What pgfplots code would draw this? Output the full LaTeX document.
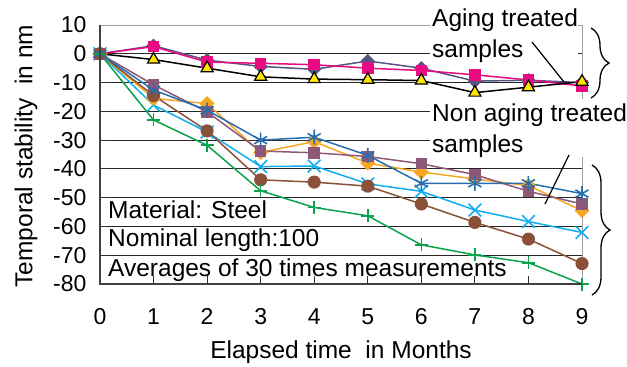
\documentclass[border=0pt]{standalone}
\usepackage{fontspec}
\setmainfont{Liberation Sans}
\usepackage{pgfplots}
\pgfplotsset{compat=1.18}
\usetikzlibrary{decorations.pathreplacing}
\definecolor{cSlate}{RGB}{85,85,130}
\definecolor{cPink}{RGB}{232,10,128}
\definecolor{cYellow}{RGB}{255,230,0}
\definecolor{cCyan}{RGB}{16,174,239}
\definecolor{cOrange}{RGB}{247,168,35}
\definecolor{cMauve}{RGB}{142,88,120}
\definecolor{cBrown}{RGB}{139,80,56}
\definecolor{cBlue}{RGB}{40,110,172}
\definecolor{cGreen}{RGB}{10,162,74}
\begin{document}
\begin{tikzpicture}[font=\fontsize{24.5}{28}\selectfont]
\path[use as bounding box] (-100pt,-83pt) rectangle (527pt,284pt);
\begin{axis}[
  at={(0pt,0pt)}, anchor=south west,
  scale only axis, width=482pt, height=259pt,
  xmin=0, xmax=9, ymin=-80, ymax=10,
  xtick={0,...,9}, ytick={-80,-70,...,10},
  tick pos=left, tick align=inside,
  major tick length=8pt,
  tick style={black!80, line width=0.8pt},
  ymajorgrids, major grid style={black!85, line width=0.8pt},
  axis line style={gray!75, line width=1pt},
  /pgf/number format/assume math mode=true,
  tick label style={font=\fontsize{23}{27}\selectfont},
  yticklabel style={xshift=-10pt},
  xticklabel style={yshift=-21pt},
  xlabel={Elapsed time~ in Months},
  ylabel={Temporal stability~ in nm},
  xlabel style={at={(axis description cs:0.5,-0.2625)}, anchor=center},
  ylabel style={at={(axis description cs:-0.1535,0.494)}, anchor=center},
  every axis plot/.append style={line width=1.5pt},
  after end axis/.code={
    \draw[black!75, line width=1.3pt] (rel axis cs:0,1) -- (rel axis cs:0,0) -- (rel axis cs:1,0);
  },
]
% Aging treated samples
\addplot[cSlate, mark=square*, mark size=4.3pt, mark options={rotate=45, fill=cSlate, solid}]
  coordinates {(0,0) (1,2.8) (2,-2.2) (3,-4.4) (4,-5.4) (5,-2.5) (6,-5) (7,-9.5) (8,-9.2) (9,-10)};
\addplot[cPink, mark=square*, mark size=5pt, mark options={fill=cPink}]
  coordinates {(0,0) (1,2.5) (2,-2.9) (3,-3.3) (4,-3.8) (5,-5) (6,-5.8) (7,-7.3) (8,-9.1) (9,-11.2)};
\addplot[black, mark=triangle*, mark size=7pt, mark options={fill=cYellow, draw=black, line width=1.2pt}]
  coordinates {(0,0) (1,-2) (2,-5) (3,-8) (4,-8.8) (5,-9) (6,-9.3) (7,-13.5) (8,-11.6) (9,-9.7)};
% Non aging treated samples
\addplot[cCyan, mark=x, mark size=9pt, mark options={line width=1.6pt}]
  coordinates {(0,0) (1,-17.8) (2,-27.2) (3,-39.2) (4,-39) (5,-45.2) (6,-47.8) (7,-54.3) (8,-58.3) (9,-62.1)};
\addplot[cOrange, mark=square*, mark size=4.6pt, mark options={rotate=45, fill=cOrange}]
  coordinates {(0,0) (1,-15.5) (2,-17.3) (3,-34.3) (4,-30.5) (5,-38) (6,-41.1) (7,-43.5) (8,-45.8) (9,-54.5)};
\addplot[cMauve, mark=square*, mark size=5pt, mark options={fill=cMauve}]
  coordinates {(0,0) (1,-10.8) (2,-20.2) (3,-33.8) (4,-34.4) (5,-35.7) (6,-38.2) (7,-42) (8,-47.8) (9,-52.2)};
\addplot[cBrown, mark=*, mark size=5.8pt, mark options={fill=cBrown}]
  coordinates {(0,0) (1,-14.5) (2,-26.8) (3,-43.8) (4,-44.6) (5,-46) (6,-52.2) (7,-58.6) (8,-64.4) (9,-72.9)};
\addplot[cBlue, mark=asterisk, mark size=7.5pt, mark options={line width=1.6pt}]
  coordinates {(0,0) (1,-12.6) (2,-19.6) (3,-30) (4,-29) (5,-35.3) (6,-45) (7,-45) (8,-45) (9,-48.6)};
\addplot[cGreen, mark=+, mark size=6.5pt, mark options={line width=1.6pt}]
  coordinates {(0,0) (1,-23) (2,-31.8) (3,-47.6) (4,-53.4) (5,-56.3) (6,-66.4) (7,-69.9) (8,-72.6) (9,-80)};
\end{axis}
% white backgrounds of the annotations
\fill[white] (330pt,220pt) rectangle (478pt,290pt);
\fill[white] (330pt,127pt) rectangle (530pt,185pt);
\node[anchor=base west, inner sep=0pt] at (332pt,257pt) {Aging treated};
\node[anchor=base west, inner sep=0pt] at (332pt,226pt) {samples};
\node[anchor=base west, inner sep=0pt] at (332pt,162pt) {Non aging treated};
\node[anchor=base west, inner sep=0pt] at (332pt,131pt) {samples};
\draw[black, line width=1.2pt] (432pt,242pt) -- (464pt,202pt);
\draw[black, line width=1.2pt] (469pt,129pt) -- (445pt,80pt);
\draw[black, line width=1.3pt, decorate, decoration={brace, amplitude=18pt}] (491pt,256pt) -- (491pt,186pt);
\draw[black, line width=1.3pt, decorate, decoration={brace, amplitude=18pt}] (492pt,119pt) -- (492pt,-11pt);
\node[anchor=base west, inner sep=0pt] at (8pt,65pt) {Material: Steel};
\node[anchor=base west, inner sep=0pt] at (8pt,37pt) {Nominal length:100};
\node[anchor=base west, inner sep=0pt] at (8pt,7pt) {Averages of 30 times measurements};
\end{tikzpicture}
\end{document}
